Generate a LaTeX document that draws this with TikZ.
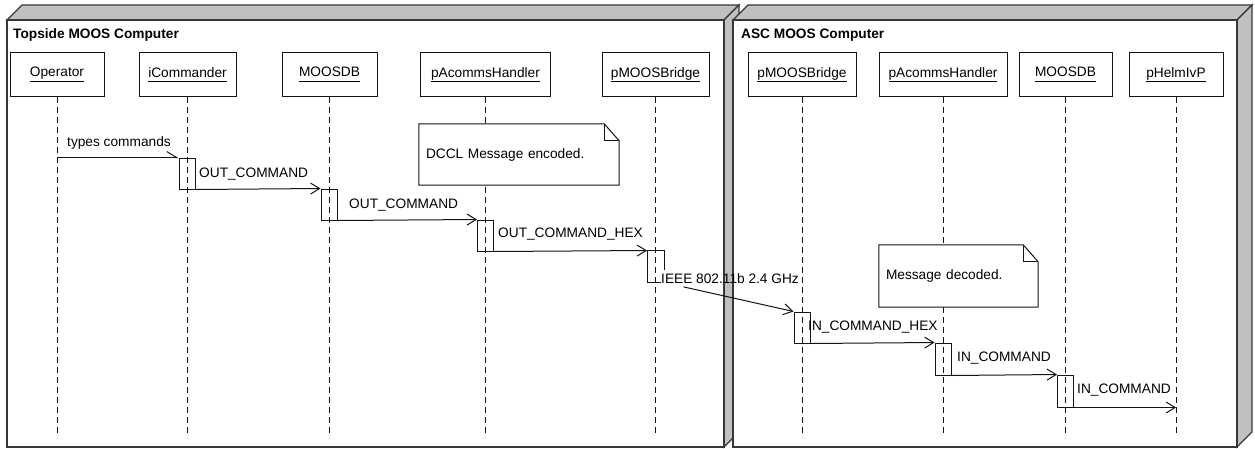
\documentclass[tikz,border=0pt]{standalone}
\usepackage{fontspec}
\setmainfont{Liberation Sans}
\usetikzlibrary{arrows.meta}
\definecolor{slab}{RGB}{192,192,192}
\definecolor{edge}{RGB}{55,55,55}
\definecolor{ink}{RGB}{20,20,20}
\newcommand\headtext[1]{\underline{#1\vphantom{p}}}
\tikzset{
  frame/.style={draw=edge, line width=1.3pt, line join=miter},
  title/.style={anchor=west, inner sep=0pt, font=\fontsize{13.7}{16}\selectfont\bfseries},
  head/.style={draw=ink, fill=white, line width=1pt, minimum height=44pt, inner sep=0pt},
  lifeline/.style={draw=ink, line width=1pt, dash pattern=on 6pt off 4pt},
  act/.style={draw=ink, line width=1pt, minimum width=16pt, minimum height=31pt, inner sep=0pt},
  actbare/.style={act, draw=none},
  msg/.style={draw=ink, line width=1pt, -{Straight Barb[length=9pt,width=11pt]}},
  halfmsg/.style={draw=ink, line width=1pt, -{Straight Barb[left,length=10pt,width=12pt]}},
  lbl/.style={anchor=base west, inner sep=0pt},
  note/.style={fill=white, inner xsep=7pt, inner ysep=0pt, align=left},
  noteline/.style={draw=ink, line width=1pt, line join=miter}
}
\begin{document}
\begin{tikzpicture}[x=1pt, y=-1pt, font=\fontsize{13.7}{16}\selectfont]
\useasboundingbox (0,0) rectangle (1255,448);

% left computer frame
\draw[frame, fill=slab] (7,20) -- (22,5) -- (739,5) -- (724,20) -- cycle;
\draw[frame, fill=slab] (724,20) -- (739,5) -- (739,432) -- (724,447) -- cycle;
\draw[frame, fill=white] (7,20) rectangle (724,447);
% right computer frame
\draw[frame, fill=slab] (733,20) -- (748,5) -- (1252,5) -- (1237,20) -- cycle;
\draw[frame, fill=slab] (1237,20) -- (1252,5) -- (1252,432) -- (1237,447) -- cycle;
\draw[frame, fill=white] (733,20) rectangle (1237,447);

\node[title] (t1) at (13,35) {Topside MOOS Computer};
\node[title] (t2) at (741,35) {ASC MOOS Computer};

% lifeline heads
\node[head, minimum width=94pt]  (op)  at (57,74.5)    {\headtext{Operator}};
\node[head, minimum width=97pt]  (ic)  at (187.5,74.5) {\headtext{iCommander}};
\node[head, minimum width=95pt]  (db)  at (329.5,74.5) {\headtext{MOOSDB}};
\node[head, minimum width=130pt] (ac)  at (485.5,74.5) {\headtext{pAcommsHandler}};
\node[head, minimum width=107pt] (mb)  at (655.5,74.5) {\headtext{pMOOSBridge}};
\node[head, minimum width=108pt] (mbr) at (802,74.5)   {\headtext{pMOOSBridge}};
\node[head, minimum width=128pt] (acr) at (943,74.5)   {\headtext{pAcommsHandler}};
\node[head, minimum width=93pt]  (dbr) at (1065.5,74.5){\headtext{MOOSDB}};
\node[head, minimum width=94pt]  (hp)  at (1176,74.5)  {\headtext{pHelmIvP}};

% lifelines
\coordinate (foot) at (0,437);
\foreach \h in {op,ic,db,ac,mb,mbr,acr,dbr,hp}
  \draw[lifeline] (\h.south) -- (\h.south |- foot);

% notes
\node[note, minimum width=200pt, minimum height=61pt, text width=186pt] (n1) at (519,154.5) {DCCL Message encoded.};
\draw[noteline] (n1.north west) -- ([xshift=-15pt]n1.north east) -- ([yshift=-17pt]n1.north east) -- (n1.south east) -- (n1.south west) -- cycle;
\draw[noteline] ([xshift=-15pt]n1.north east) |- ([yshift=-17pt]n1.north east);

\node[note, minimum width=159pt, minimum height=62pt, text width=145pt] (n2) at (958.5,276) {Message decoded.};
\draw[noteline] (n2.north west) -- ([xshift=-15pt]n2.north east) -- ([yshift=-17pt]n2.north east) -- (n2.south east) -- (n2.south west) -- cycle;
\draw[noteline] ([xshift=-15pt]n2.north east) |- ([yshift=-17pt]n2.north east);

% activations
\node[act] (ic1) at (187,173.5) {};
\node[act] (db1) at (329,204.5) {};
\node[act] (ac1) at (485.5,235.5) {};
\node[actbare] (mb1) at (655.5,266.5) {};
\node[act] (mb2) at (802,327.5) {};
\node[act, minimum height=32pt] (ac2) at (943,359) {};
\node[act, minimum height=32pt] (db2) at (1065.5,391) {};

% message labels
\node[lbl] (l1) at (67,146)   {types commands};
\node[lbl] (l2) at (199,177)  {OUT\_COMMAND};
\node[lbl] (l3) at (349,208)  {OUT\_COMMAND};
\node[lbl] (l4) at (498,237)  {OUT\_COMMAND\_HEX};
\node[lbl] (l5) at (661,283)  {IEEE 802.11b 2.4 GHz};
\node[lbl] (l6) at (808,330)  {IN\_COMMAND\_HEX};
\node[lbl] (l7) at (957,361)  {IN\_COMMAND};
\node[lbl] (l8) at (1077,393) {IN\_COMMAND};

% bridge activation, partly hidden behind its label
\draw[ink, line width=1pt, line join=miter] (l5.west |- mb1.south) -- (mb1.south west) -- (mb1.north west) -- (mb1.north east) -- (mb1.east |- 0,270);

% messages
\draw[halfmsg] (op.south |- ic1.north west) -- (ic1.north west);
\draw[msg] (ic1.south east) -- (db1.north west);
\draw[msg] (db1.south east) -- (ac1.north west);
\draw[msg] (ac1.south east) -- (mb1.north west);
\draw[msg, shorten <=20pt] (mb1.south east) -- (mb2.north west);
\draw[msg] (mb2.south east) -- (ac2.north west);
\draw[msg] (ac2.south east) -- (db2.north west);
\draw[msg] (db2.south east) -- (hp.south |- db2.south east);
\end{tikzpicture}
\end{document}
